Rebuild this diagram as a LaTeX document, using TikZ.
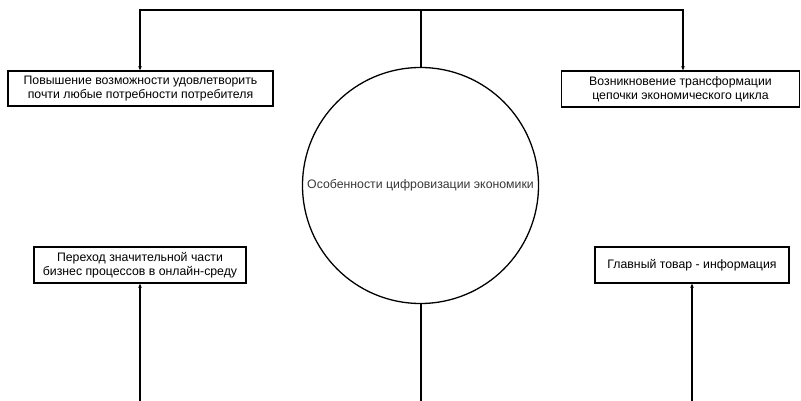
\documentclass[tikz,border=0pt]{standalone}
\usepackage{fontspec}
\setmainfont{Liberation Sans}
\usetikzlibrary{arrows.meta}
\begin{document}
\begin{tikzpicture}[x=1pt,y=-1pt,
  txt/.style={font=\fontsize{12.3}{13.6}\selectfont,text=black!78},
  box/.style={draw,line width=1.5pt,inner sep=0pt,align=center,txt,color=black},
  conn/.style={line width=1.3pt,-{Stealth[length=4pt,width=3.5pt]}},
  plain/.style={line width=1.3pt}]
\useasboundingbox (0,0) rectangle (801,401);
\node[draw,circle,line width=1.3pt,minimum size=236pt,inner sep=0pt,txt] (c) at (420.5,185.5) {Особенности цифровизации экономики};
\node[box,minimum width=265pt,minimum height=35pt] (b1) at (140.5,88.5) {Повышение возможности удовлетворить\\почти любые потребности потребителя};
\node[box,minimum width=238pt,minimum height=36pt] (b2) at (680.5,89) {Возникновение трансформации\\цепочки экономического цикла};
\node[box,minimum width=212pt,minimum height=36pt] (b3) at (140,265) {Переход значительной части\\бизнес процессов в онлайн-среду};
\node[box,minimum width=194pt,minimum height=36pt] (b4) at (692,265) {Главный товар - информация};
\coordinate (tl) at (140,10);
\coordinate (tr) at (683,10);
\coordinate (tc) at (421,10);
\coordinate (bc) at (421,402);
\coordinate (bl) at (140,402);
\coordinate (br) at (692,402);
\draw[plain] (c.north -| tc) -- (tc);
\draw[conn] (tc) -- (tl) -- (b1.north -| tl);
\draw[conn] (tc) -- (tr) -- (b2.north -| tr);
\draw[plain] (c.south -| bc) -- (bc);
\draw[conn] (bl) -- (b3.south -| bl);
\draw[conn] (br) -- (b4.south -| br);
\end{tikzpicture}
\end{document}
